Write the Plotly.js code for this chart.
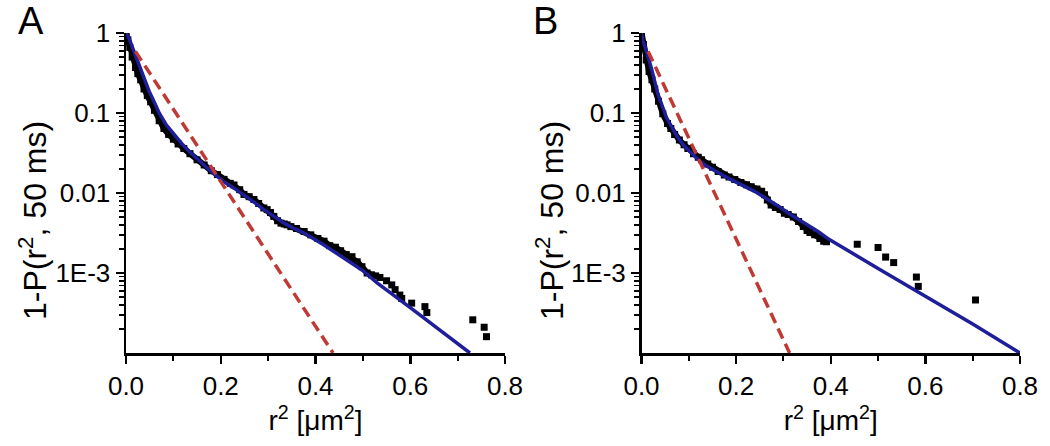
<!DOCTYPE html>
<html>
<head>
<meta charset="utf-8">
<script src="https://cdn.plot.ly/plotly-3.0.1.min.js"></script>
<style>html,body{margin:0;padding:0;background:#fff;}#chart{width:1050px;height:446px;}</style>
</head>
<body>
<div id="chart"></div>
<script>
// ---------- Panel A ----------
const dataA_x = [0.000,0.004,0.008,0.013,0.020,0.025,0.031,0.038,0.045,0.052,0.060,0.070,0.080,0.090,0.100,0.110,0.122,0.135,0.150,0.165,0.180,0.193,0.207,0.220,0.228,0.240,0.249,0.260,0.270,0.280,0.291,0.298,0.305,0.312,0.320,0.327,0.334,0.340,0.348,0.360,0.376,0.390,0.405,0.418,0.430,0.442,0.453,0.465,0.477,0.488,0.498,0.509,0.518,0.527];
const dataA_y = [1.0,0.82,0.66,0.50,0.37,0.31,0.26,0.20,0.165,0.138,0.108,0.080,0.064,0.054,0.047,0.041,0.036,0.031,0.026,0.0224,0.019,0.017,0.0148,0.0132,0.0126,0.0110,0.0096,0.0090,0.0083,0.0074,0.0065,0.0062,0.0057,0.0051,0.0045,0.0042,0.0041,0.0040,0.0038,0.0036,0.0033,0.0030,0.0027,0.0025,0.0022,0.0021,0.00190,0.0017,0.0016,0.00138,0.00120,0.00100,0.00095,0.00092];
const sparseA_x = [0.536,0.550,0.561,0.568,0.578,0.582,0.603,0.631,0.635,0.732,0.756,0.761];
const sparseA_y = [0.00088,0.00080,0.00071,0.00062,0.00053,0.00048,0.00042,0.00038,0.00032,0.00026,0.00021,0.00016];
const fitA_x = [0,0.006,0.015,0.027,0.038,0.049,0.060,0.070,0.085,0.101,0.120,0.137,0.155,0.172,0.190,0.207,0.228,0.249,0.270,0.291,0.312,0.334,0.355,0.376,0.418,0.460,0.502,0.530,0.600,0.726];
const fitA_y = [1.0,0.87,0.63,0.40,0.27,0.186,0.135,0.100,0.071,0.054,0.040,0.0316,0.025,0.0204,0.0166,0.0138,0.0115,0.0095,0.0077,0.0062,0.0051,0.0042,0.0036,0.00316,0.00224,0.00155,0.00105,0.00075,0.00037,0.0001];
const singleA_x = [0.020,0.437];
const singleA_y = [0.589,0.0001];

// ---------- Panel B ----------
const dataB_x = [0.000,0.004,0.010,0.016,0.022,0.028,0.036,0.045,0.055,0.062,0.070,0.080,0.090,0.098,0.110,0.120,0.127,0.140,0.150,0.162,0.175,0.185,0.197,0.210,0.222,0.232,0.244,0.254,0.260,0.266,0.274,0.283,0.293,0.302,0.310,0.321,0.332,0.342,0.350,0.356,0.366,0.377,0.385,0.391];
const dataB_y = [1.0,0.72,0.46,0.33,0.26,0.20,0.14,0.098,0.074,0.064,0.054,0.046,0.040,0.036,0.031,0.028,0.026,0.023,0.021,0.0186,0.0168,0.0158,0.0148,0.0135,0.0127,0.0120,0.0112,0.0105,0.0095,0.0082,0.0071,0.0066,0.0062,0.0056,0.0054,0.0050,0.0044,0.0038,0.0034,0.0032,0.0030,0.0027,0.0025,0.00245];
const sparseB_x = [0.456,0.500,0.516,0.533,0.581,0.585,0.706];
const sparseB_y = [0.00229,0.00209,0.00158,0.00135,0.00089,0.00068,0.00046];
const fitB_x = [0,0.003,0.010,0.021,0.035,0.053,0.065,0.077,0.090,0.105,0.120,0.134,0.150,0.169,0.186,0.204,0.222,0.239,0.256,0.274,0.292,0.310,0.327,0.345,0.373,0.398,0.500,0.589,0.700,0.800];
const fitB_y = [1.0,0.80,0.60,0.36,0.17,0.087,0.065,0.049,0.039,0.0316,0.026,0.0224,0.0195,0.0170,0.0150,0.0133,0.0118,0.0105,0.0091,0.0079,0.0067,0.0056,0.0048,0.0042,0.0033,0.0026,0.00114,0.00056,0.00023,0.0001];
const singleB_x = [0.014,0.313];
const singleB_y = [0.589,0.0001];

// ---------- ticks ----------
const xTickVals = [0, 0.2, 0.4, 0.6, 0.8];
const xTickText = ['0.0', '0.2', '0.4', '0.6', '0.8'];
const yTickVals = [1, 0.1, 0.01, 0.001];
const yTickText = ['1', '0.1', '0.01', '1E-3'];
const xTitle = 'r<sup>2</sup> [μm<sup>2</sup>]';
const yTitle = '1-P(r<sup>2</sup>, 50 ms)';
const panelLabels = ['A', 'B'];

const FONT = 'Arial, "Liberation Sans", sans-serif';
const BLUE = '#1e1e9a';
const RED = '#c03a35';

const yMinor = [];
for (let d = -4; d < 0; d++) for (let k = 2; k <= 9; k++) yMinor.push(k * Math.pow(10, d));

function panel(dx, dy, sx, sy, fx, fy, rx, ry, xa, ya) {
  return [
    {x: dx, y: dy, xaxis: xa, yaxis: ya, type: 'scatter', mode: 'lines+markers',
     line: {color: '#000', width: 6}, marker: {symbol: 'square', size: 7, color: '#000'},
     showlegend: false},
    {x: sx, y: sy, xaxis: xa, yaxis: ya, type: 'scatter', mode: 'markers',
     marker: {symbol: 'square', size: 7, color: '#000'}, showlegend: false},
    {x: fx, y: fy, xaxis: xa, yaxis: ya, type: 'scatter', mode: 'lines',
     line: {color: BLUE, width: 3.5}, showlegend: false},
    {x: rx, y: ry, xaxis: xa, yaxis: ya, type: 'scatter', mode: 'lines',
     line: {color: RED, width: 3.5, dash: '11px,6px'}, showlegend: false}
  ];
}

const traces = [].concat(
  panel(dataA_x, dataA_y, sparseA_x, sparseA_y, fitA_x, fitA_y, singleA_x, singleA_y, 'x', 'y'),
  panel(dataB_x, dataB_y, sparseB_x, sparseB_y, fitB_x, fitB_y, singleB_x, singleB_y, 'x2', 'y2')
);

function xax(domain, anchor) {
  return {
    domain: domain, anchor: anchor, range: [0, 0.8], showgrid: false, zeroline: false,
    showline: true, linecolor: '#000', linewidth: 2.5, mirror: false,
    tickmode: 'array', tickvals: xTickVals, ticktext: xTickText,
    ticks: 'outside', ticklen: 8, tickwidth: 2.5, tickcolor: '#000',
    minor: {tickmode: 'array', tickvals: [0.1, 0.3, 0.5, 0.7], ticks: 'outside', ticklen: 5, tickwidth: 2, tickcolor: '#000'},
    tickfont: {family: FONT, size: 26, color: '#000'},
    title: {text: xTitle, font: {family: FONT, size: 28, color: '#000'}, standoff: 8},
    automargin: false
  };
}
function yax(anchor) {
  return {
    domain: [0.2085, 0.926], anchor: anchor, type: 'log', range: [-4, 0], showgrid: false, zeroline: false,
    showline: true, linecolor: '#000', linewidth: 2.5, mirror: false,
    tickmode: 'array', tickvals: yTickVals, ticktext: yTickText,
    ticks: 'outside', ticklen: 8, tickwidth: 2.5, tickcolor: '#000',
    minor: {tickmode: 'array', tickvals: yMinor, ticks: 'outside', ticklen: 5, tickwidth: 1.5, tickcolor: '#000'},
    tickfont: {family: FONT, size: 26, color: '#000'},
    automargin: false
  };
}

const layout = {
  width: 1050, height: 446,
  margin: {l: 0, r: 0, t: 0, b: 0},
  paper_bgcolor: '#fff', plot_bgcolor: '#fff',
  font: {family: FONT, color: '#000'},
  xaxis: xax([126/1050, 505/1050], 'y'),
  yaxis: yax('x'),
  xaxis2: xax([641.5/1050, 1020/1050], 'y2'),
  yaxis2: yax('x2'),
  annotations: [
    {text: panelLabels[0], x: 31/1050, y: 1 - 21/446, xref: 'paper', yref: 'paper', xanchor: 'center', yanchor: 'middle', showarrow: false, font: {family: FONT, size: 38, color: '#000'}},
    {text: panelLabels[1], x: 545/1050, y: 1 - 21/446, xref: 'paper', yref: 'paper', xanchor: 'center', yanchor: 'middle', showarrow: false, font: {family: FONT, size: 38, color: '#000'}},
    {text: yTitle, textangle: -90, x: 33/1050, y: 1 - 221/446, xref: 'paper', yref: 'paper', xanchor: 'center', yanchor: 'middle', showarrow: false, font: {family: FONT, size: 32, color: '#000'}},
    {text: yTitle, textangle: -90, x: 550/1050, y: 1 - 221/446, xref: 'paper', yref: 'paper', xanchor: 'center', yanchor: 'middle', showarrow: false, font: {family: FONT, size: 32, color: '#000'}}
  ]
};

Plotly.newPlot('chart', traces, layout, {staticPlot: true, displayModeBar: false});
</script>
</body>
</html>
